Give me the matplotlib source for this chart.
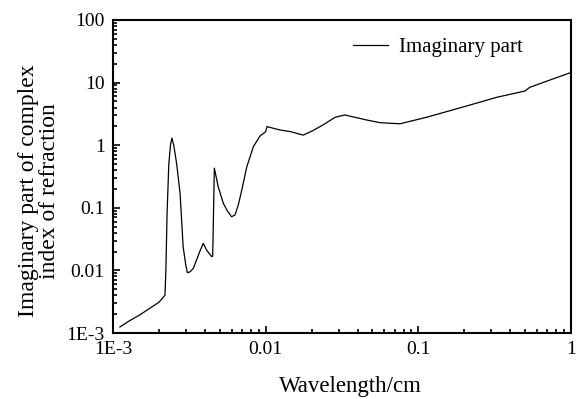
import numpy as np
import matplotlib
matplotlib.use("Agg")
import matplotlib.pyplot as plt
from matplotlib.ticker import LogLocator, FixedLocator, NullFormatter

plt.rcParams['font.family'] = ['Liberation Serif', 'DejaVu Serif']

# wavelength (cm) and imaginary part of the refractive index
wavelength = [1.11e-3, 1.3e-3, 1.5e-3, 1.75e-3, 2.0e-3, 2.19e-3, 2.22e-3, 2.26e-3,
              2.32e-3, 2.38e-3, 2.43e-3, 2.5e-3, 2.61e-3, 2.75e-3, 2.88e-3, 3.0e-3,
              3.07e-3, 3.2e-3, 3.36e-3, 3.53e-3, 3.7e-3, 3.9e-3, 4.11e-3, 4.43e-3,
              4.5e-3, 4.61e-3, 4.89e-3, 5.28e-3, 5.6e-3, 5.98e-3, 6.3e-3, 6.62e-3,
              7.0e-3, 7.52e-3, 8.31e-3, 9.18e-3, 9.7e-3, 1.0e-2, 1.02e-2, 1.24e-2,
              1.45e-2, 1.76e-2, 2.0e-2, 2.37e-2, 2.85e-2, 3.3e-2, 4.58e-2, 5.61e-2,
              7.59e-2, 0.113, 0.207, 0.326, 0.50, 0.537, 0.728, 1.0]
imag_part = [1.25e-3, 1.6e-3, 1.95e-3, 2.5e-3, 3.1e-3, 4.0e-3, 0.01, 0.08,
             0.5, 1.0, 1.3, 1.0, 0.51, 0.17, 0.024, 0.012,
             0.0092, 0.0095, 0.0108, 0.0147, 0.02, 0.027, 0.021, 0.0166,
             0.017, 0.43, 0.217, 0.118, 0.09, 0.072, 0.077, 0.111,
             0.2, 0.45, 0.95, 1.4, 1.55, 1.65, 1.98, 1.75,
             1.65, 1.45, 1.67, 2.1, 2.79, 3.04, 2.53, 2.29,
             2.20, 2.79, 4.23, 5.82, 7.35, 8.4, 11.0, 14.5]

x_ticks = [1e-3, 1e-2, 1e-1, 1]
x_labels = ['1E-3', '0.01', '0.1', '1']
y_ticks = [1e-3, 1e-2, 1e-1, 1, 10, 100]
y_labels = ['1E-3', '0.01', '0.1', '1', '10', '100']

W, H = 578, 399
fig = plt.figure(figsize=(W / 100, H / 100), dpi=100)
ax = fig.add_axes([113 / W, 1 - 333 / H, 458 / W, 313 / H])

ax.plot(wavelength, imag_part, color='black', lw=0.9, label='Imaginary part')
ax.set_xscale('log')
ax.set_yscale('log')
ax.set_xlim(1e-3, 1)
ax.set_ylim(1e-3, 100)

ax.xaxis.set_major_locator(FixedLocator(x_ticks))
ax.set_xticklabels(x_labels)
ax.yaxis.set_major_locator(FixedLocator(y_ticks))
ax.set_yticklabels(y_labels)
ax.xaxis.set_minor_locator(LogLocator(base=10, subs=np.arange(2, 10)))
ax.yaxis.set_minor_locator(LogLocator(base=10, subs=np.arange(2, 10)))
ax.xaxis.set_minor_formatter(NullFormatter())
ax.yaxis.set_minor_formatter(NullFormatter())
ax.tick_params(which='both', direction='in', top=False, right=False,
               labelsize=14, width=1.2)
ax.tick_params(which='major', length=5, pad=6)
ax.tick_params(which='minor', length=3)
for s in ax.spines.values():
    s.set_linewidth(1.5)

fig.text(350 / W, 1 - 392 / H, 'Wavelength/cm', fontsize=16.5,
         ha='center', va='baseline')
fig.text(39 / W, 1 - 191 / H, 'Imaginary part of complex\nindex of refraction',
         fontsize=17, rotation=90, ha='center', va='center',
         multialignment='center', linespacing=1.05)

ax.legend(loc='center left', frameon=False, fontsize=15, handlelength=1.7,
          handletextpad=0.5, borderpad=0, borderaxespad=0,
          bbox_to_anchor=(353 / W, 1 - 47 / H), bbox_transform=fig.transFigure)

fig.savefig('out.png', dpi=100)
